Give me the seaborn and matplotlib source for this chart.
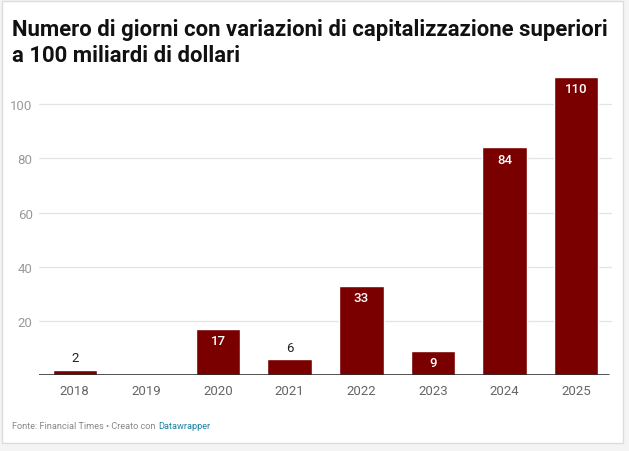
import matplotlib
matplotlib.use("Agg")
import matplotlib.pyplot as plt
import seaborn as sns
import pandas as pd
from matplotlib.patches import Rectangle

years = ["2018", "2019", "2020", "2021", "2022", "2023", "2024", "2025"]
values = [2, 0, 17, 6, 33, 9, 84, 110]
yticks = [20, 40, 60, 80, 100]

title = "Numero di giorni con variazioni di capitalizzazione superiori\na 100 miliardi di dollari"
source = "Fonte: Financial Times • Creato con"
credit = "Datawrapper"

sns.set_theme(style="white")
plt.rcParams['font.family'] = ['Roboto', 'DejaVu Sans']

df = pd.DataFrame({"year": years, "value": values})

fig = plt.figure(figsize=(6.29, 4.52), dpi=100)
fig.patch.set_facecolor("#f4f4f4")
card = Rectangle((2/629, 8/452), 621/629, 442/452, transform=fig.transFigure,
                 facecolor="white", edgecolor="#dcdcdc", linewidth=1, zorder=-5)
fig.patches.append(card)

ax = fig.add_axes([39/629, 1 - 376.25/452, 573/629, (376.25 - 75.2)/452])
ax.set_facecolor("none")
ax.set_zorder(2)
sns.barplot(data=df, x="year", y="value", color="#7a0000", width=0.62,
            saturation=1, ax=ax, zorder=3)
ax.set_xlim(-0.5, 7.5)
ax.set_ylim(0, 111)
ax.set_yticks(yticks)
for y in yticks:
    ax.axhline(y, color="#e3e3e3", linewidth=0.9, zorder=1)
ax.axhline(0, color="#222222", linewidth=1.1, zorder=4, xmax=0.995)
for s in ax.spines.values():
    s.set_visible(False)
ax.set_xlabel("")
ax.set_ylabel("")
ax.tick_params(axis="y", length=0, pad=4.5, labelsize=9.5, labelcolor="#9a9a9a")
ax.tick_params(axis="x", length=0, pad=6, labelsize=9.5, labelcolor="#666666")

for i, v in enumerate(values):
    if v == 0:
        continue
    if v >= 9:
        ax.annotate(str(v), (i, v), xytext=(0, -8.5), textcoords="offset points",
                    ha="center", va="center", color="white", fontsize=9.5, fontweight="medium")
    else:
        ax.annotate(str(v), (i, v), xytext=(0, 8.6), textcoords="offset points",
                    ha="center", va="center", color="#222222", fontsize=9.5)

fig.text(12/629, 1 - 43/452, title, fontsize=15.9, fontweight="bold",
         color="#111111", va="center", ha="left", linespacing=1.25)
t = fig.text(12/629, 1 - 427/452, source, fontsize=6.6, color="#888888", va="center", ha="left")
fig.canvas.draw()
bb = t.get_window_extent()
fig.text((bb.x1 + 3) / 629, 1 - 427/452, credit, fontsize=6.6, color="#1d81a2", va="center", ha="left")

fig.savefig("out.png", dpi=100)
